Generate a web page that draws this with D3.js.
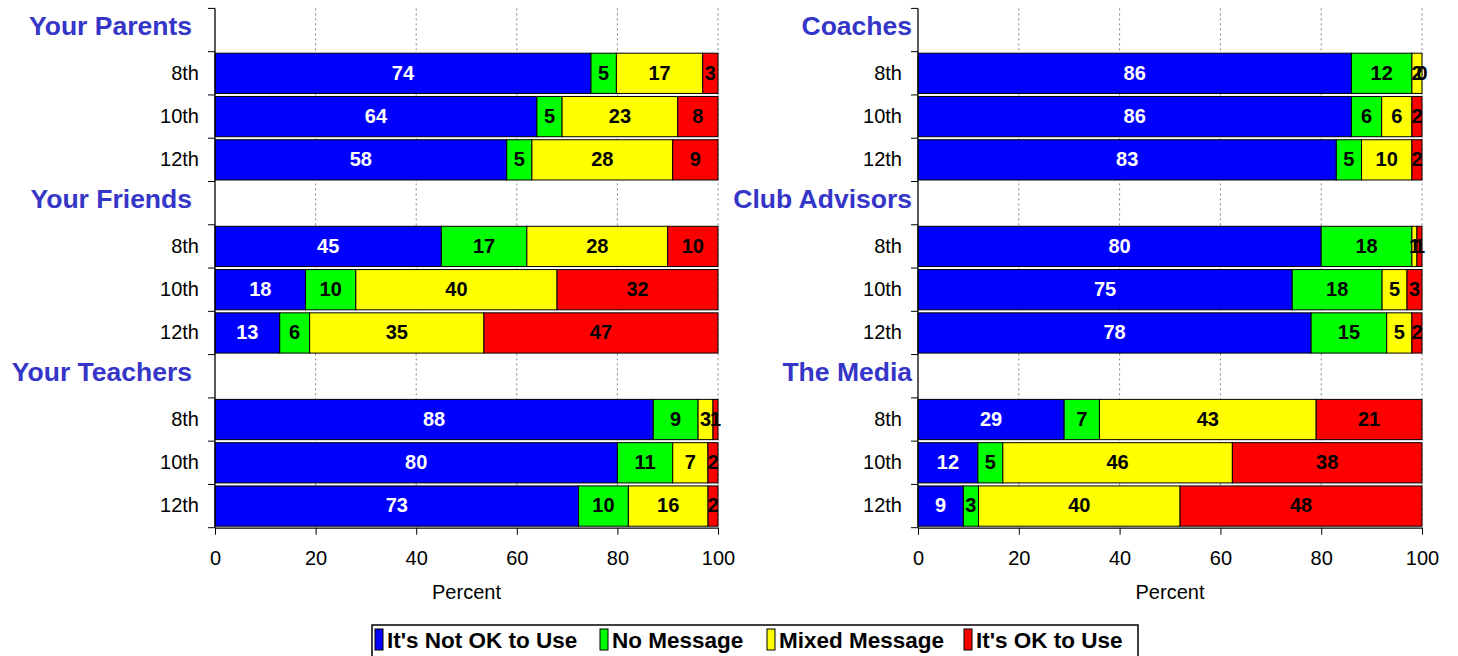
<!DOCTYPE html>
<html><head><meta charset="utf-8">
<script src="https://cdn.jsdelivr.net/npm/d3@7"></script>
<style>body{margin:0;background:#fff}svg{display:block;font-family:"Liberation Sans",Arial,sans-serif}</style>
</head><body><svg id="c" width="1458" height="656"></svg>
<script>
const seriesNames = ["It's Not OK to Use","No Message","Mixed Message","It's OK to Use"];
const seriesColors = ["#0000FF","#00FF00","#FFFF00","#FF0000"];
const grades = ["8th","10th","12th"];
const leftGroups = ["Your Parents","Your Friends","Your Teachers"];
const rightGroups = ["Coaches","Club Advisors","The Media"];
const parents  = [[74,5,17,3],[64,5,23,8],[58,5,28,9]];
const friends  = [[45,17,28,10],[18,10,40,32],[13,6,35,47]];
const teachers = [[88,9,3,1],[80,11,7,2],[73,10,16,2]];
const coaches  = [[86,12,2,0],[86,6,6,2],[83,5,10,2]];
const advisors = [[80,18,1,1],[75,18,5,3],[78,15,5,2]];
const media    = [[29,7,43,21],[12,5,46,38],[9,3,40,48]];
const xTicks = [0,20,40,60,80,100];

const svg = d3.select("#c");

function panel(groups, data, x0, x1, titleRight) {
  const rows = [];
  groups.forEach((g, gi) => {
    rows.push({key: g + "|t", title: g});
    grades.forEach((gr, ri) => {
      const r = {key: g + "|" + gr, grade: gr};
      seriesNames.forEach((s, si) => r[s] = data[gi][ri][si]);
      rows.push(r);
    });
  });
  const x = d3.scaleLinear().domain([0,100]).range([x0, x1]);
  const y = d3.scaleBand().domain(rows.map(r => r.key)).range([8.4, 527.7]).paddingInner(0.07).paddingOuter(0.035);
  const top = 8.4, bottom = 527.7;
  const g = svg.append("g");

  g.selectAll("line.grid").data(xTicks.slice(1)).join("line")
    .attr("x1", d => x(d)).attr("x2", d => x(d)).attr("y1", top).attr("y2", bottom)
    .attr("stroke", "#808080").attr("stroke-width", 1).attr("stroke-dasharray", "2,3");

  const barRows = rows.filter(r => !r.title);
  const stack = d3.stack().keys(seriesNames).offset(d3.stackOffsetExpand);
  const stacked = stack(barRows);
  stacked.forEach((layer, si) => {
    g.append("g").selectAll("rect").data(layer).join("rect")
      .attr("x", d => x(d[0]*100)).attr("width", d => Math.max(0, x(d[1]*100) - x(d[0]*100)))
      .attr("y", d => y(d.data.key)).attr("height", y.bandwidth())
      .attr("fill", seriesColors[si]).attr("stroke", "#000").attr("stroke-width", 1);
  });
  stacked.forEach((layer, si) => {
    g.append("g").selectAll("text").data(layer).join("text")
      .attr("x", d => (x(d[0]*100) + x(d[1]*100)) / 2)
      .attr("y", d => y(d.data.key) + y.bandwidth()/2 + 1)
      .attr("text-anchor", "middle").attr("dominant-baseline", "middle")
      .attr("font-size", 20).attr("font-weight", "bold")
      .attr("fill", si === 0 ? "#fff" : "#000")
      .text(d => d.data[seriesNames[si]]);
  });

  g.append("line").attr("x1", x0).attr("x2", x0).attr("y1", top).attr("y2", bottom).attr("stroke", "#000").attr("stroke-width", 1.3);
  const bounds = d3.range(rows.length + 1).map(i => top + i * (bottom - top) / rows.length);
  g.selectAll("line.yt").data(bounds).join("line")
    .attr("x1", x0 - 7).attr("x2", x0).attr("y1", d => d).attr("y2", d => d).attr("stroke", "#000");
  g.selectAll("text.yl").data(rows).join("text")
    .attr("x", d => d.title ? titleRight : x0 - 16)
    .attr("y", d => y(d.key) + y.bandwidth()/2 + (d.title ? -2 : 1))
    .attr("text-anchor", "end").attr("dominant-baseline", "middle")
    .attr("font-size", d => d.title ? 26.5 : 20)
    .attr("font-weight", d => d.title ? "bold" : "normal")
    .attr("fill", d => d.title ? "#3535C8" : "#000")
    .text(d => d.title || d.grade);

  const xa = g.append("g").attr("transform", `translate(0,${bottom})`)
    .call(d3.axisBottom(x).tickValues(xTicks).tickSize(7).tickSizeOuter(0).tickPadding(16));
  xa.select(".domain").attr("stroke-width", 1.3);
  xa.selectAll("text").attr("font-size", 20).attr("font-family", "Liberation Sans, Arial, sans-serif").attr("fill", "#000");
  g.append("text").attr("x", (x0 + x1) / 2).attr("y", 594).attr("text-anchor", "middle").attr("dominant-baseline", "middle")
    .attr("font-size", 20).text("Percent");
}

panel(leftGroups, [parents, friends, teachers], 215, 718, 192);
panel(rightGroups, [coaches, advisors, media], 918, 1422, 912);

const leg = svg.append("g");
leg.append("rect").attr("x", 372).attr("y", 625).attr("width", 766).attr("height", 40).attr("fill", "#fff").attr("stroke", "#000").attr("stroke-width", 1.5);
const legX = [375, 600, 767, 964];
seriesNames.forEach((s, i) => {
  leg.append("rect").attr("x", legX[i]).attr("y", 629).attr("width", 8).attr("height", 21)
    .attr("fill", seriesColors[i]).attr("stroke", "#000").attr("stroke-width", 1);
  leg.append("text").attr("x", legX[i] + 12).attr("y", 642).attr("dominant-baseline", "middle")
    .attr("font-size", 22.5).attr("font-weight", "bold").text(s);
});
</script></body></html>
